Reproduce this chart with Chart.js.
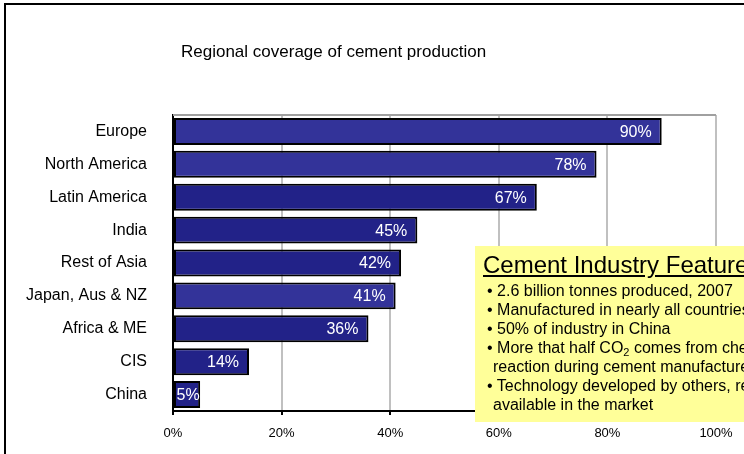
<!DOCTYPE html>
<html>
<head>
<meta charset="utf-8">
<script src="https://cdn.jsdelivr.net/npm/chart.js@4"></script>
<style>
    html, body {
        margin: 0;
        padding: 0;
        width: 744px;
        height: 454px;
        overflow: hidden;
        background: #fff;
        font-family: 'Liberation Sans', Arial, sans-serif;
    }
    #chart {
        position: absolute;
        left: 0;
        top: 0;
    }
    .frame {
        position: absolute;
        left: 4px;
        top: 3px;
        width: 800px;
        height: 500px;
        border-top: 2px solid #000;
        border-left: 2px solid #000;
    }
    .chart-title {
        position: absolute;
        left: 181px;
        top: 42px;
        font-size: 17px;
        color: #000;
        white-space: nowrap;
    }
    .features {
        position: absolute;
        left: 475px;
        top: 246px;
        width: 300px;
        height: 176px;
        background: #ffff99;
        color: #000;
        white-space: nowrap;
    }
    .features h3 {
        margin: 6px 0 0 8px;
        font-size: 24px;
        font-weight: normal;
        line-height: 26px;
        text-decoration: underline;
    }
    .features .item {
        margin-left: 12px;
        padding-left: 6px;
        text-indent: -6px;
        font-size: 16px;
        line-height: 19px;
    }
    .features .list {
        margin-top: 3px;
    }
    .features sub {
        font-size: 11px;
        line-height: 0;
        vertical-align: -3px;
    }
</style>
</head>
<body>
<canvas id="chart" width="744" height="454"></canvas>
<div class="frame"></div>
<div class="chart-title">Regional coverage of cement production</div>
<div class="features">
    <h3>Cement Industry Features</h3>
    <div class="list">
        <div class="item">• 2.6 billion tonnes produced, 2007</div>
        <div class="item">• Manufactured in nearly all countries</div>
        <div class="item">• 50% of industry in China</div>
        <div class="item">• More that half CO<sub>2</sub> comes from chemical<br>reaction during cement manufacture</div>
        <div class="item">• Technology developed by others, readily<br>available in the market</div>
    </div>
</div>

<script>
// Coverage by region (% of production)
const regions = ['Europe', 'North America', 'Latin America', 'India', 'Rest of Asia',
    'Japan, Aus & NZ', 'Africa & ME', 'CIS', 'China'];
const coverage = [90, 78, 67, 45, 42, 41, 36, 14, 5];
const axisTicks = [0, 20, 40, 60, 80, 100];

// Bar fills (two shades of blue)
const barColors = ['#333399', '#333399', '#222288', '#222288', '#222288',
    '#333399', '#222288', '#222288', '#222288'];

const FONT = "'Liberation Sans', Arial, sans-serif";

// Gray line along the top of the plot area
const plotTopLine = {
    id: 'plotTopLine',
    beforeDatasetsDraw(chart) {
        const { ctx, chartArea } = chart;
        ctx.save();
        ctx.strokeStyle = '#a0a0a0';
        ctx.lineWidth = 2;
        ctx.beginPath();
        ctx.moveTo(chartArea.left, chartArea.top);
        ctx.lineTo(chartArea.right, chartArea.top);
        ctx.stroke();
        ctx.restore();
    }
};

// White value labels at the end of each bar (centred when the bar is too short)
const valueLabels = {
    id: 'valueLabels',
    afterDatasetsDraw(chart) {
        const { ctx } = chart;
        const meta = chart.getDatasetMeta(0);
        ctx.save();
        ctx.fillStyle = '#fff';
        ctx.font = `16px ${FONT}`;
        ctx.textBaseline = 'middle';
        meta.data.forEach((bar, i) => {
            const text = coverage[i] + '%';
            const w = ctx.measureText(text).width;
            if (bar.x - bar.base < w + 16) {
                ctx.textAlign = 'center';
                ctx.fillText(text, (bar.x + bar.base) / 2 + 1, bar.y + 1);
            } else {
                ctx.textAlign = 'right';
                ctx.fillText(text, bar.x - 10, bar.y + 1);
            }
        });
        ctx.restore();
    }
};

new Chart(document.getElementById('chart'), {
    type: 'bar',
    data: {
        labels: regions,
        datasets: [{
            data: coverage,
            backgroundColor: barColors,
            borderColor: '#000',
            borderWidth: 2,
            borderSkipped: false,
            barPercentage: 0.82,
            categoryPercentage: 1
        }]
    },
    options: {
        indexAxis: 'y',
        responsive: false,
        animation: false,
        devicePixelRatio: 1,
        layout: {
            padding: { top: 115, right: 28, bottom: 0, left: 0 }
        },
        plugins: {
            legend: { display: false },
            tooltip: { enabled: false }
        },
        scales: {
            x: {
                min: axisTicks[0],
                max: axisTicks[axisTicks.length - 1],
                afterBuildTicks: (scale) => {
                    scale.ticks = axisTicks.map(v => ({ value: v }));
                },
                afterFit: (scale) => { scale.height = 43; },
                grid: {
                    color: '#c0c0c0',
                    lineWidth: 2,
                    tickColor: '#000',
                    tickLength: 4
                },
                border: { color: '#000', width: 2 },
                ticks: {
                    color: '#000',
                    padding: 11,
                    maxRotation: 0,
                    font: { family: FONT, size: 13 },
                    callback: (v) => v + '%'
                }
            },
            y: {
                afterFit: (scale) => { scale.width = 173; },
                grid: { display: false, drawTicks: false },
                border: { color: '#000', width: 2 },
                ticks: {
                    color: '#000',
                    padding: 26,
                    font: { family: FONT, size: 16 }
                }
            }
        }
    },
    plugins: [plotTopLine, valueLabels]
});
</script>
</body>
</html>
